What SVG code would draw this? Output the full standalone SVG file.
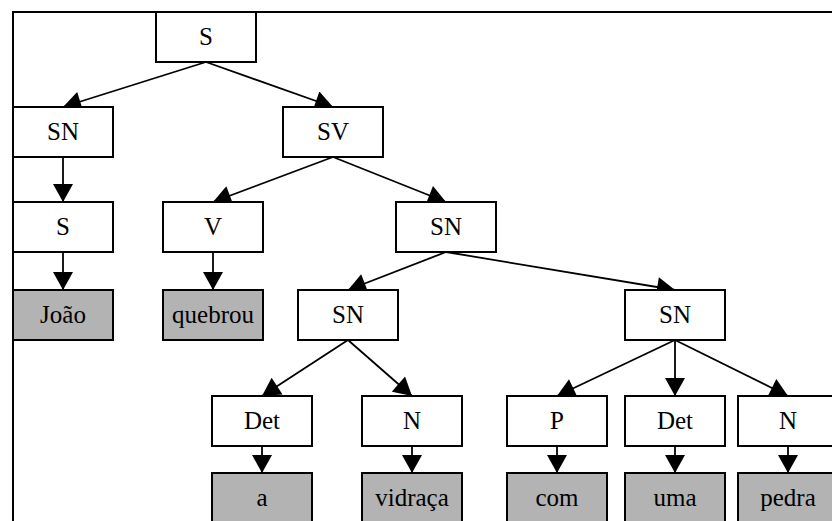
<svg xmlns="http://www.w3.org/2000/svg" width="832" height="521" viewBox="0 0 832 521">
<style>
.box{fill:#ffffff;stroke:#000;stroke-width:2}
.leaf{fill:#b3b3b3;stroke:#000;stroke-width:2}
.t{font-family:"Liberation Serif","Times New Roman",serif;font-size:25px;text-anchor:middle;fill:#000}
.c line{stroke:#000;stroke-width:1.8;marker-end:url(#ah)}
</style>
<defs>
<marker id="ah" markerUnits="userSpaceOnUse" markerWidth="20" markerHeight="20" viewBox="0 0 18 20" refX="18" refY="10" orient="auto">
<path d="M0,0 L18,10 L0,20 Z" fill="#000"/>
</marker>
</defs>
<rect x="0" y="0" width="832" height="521" fill="#fff"/>
<rect x="13" y="12" width="900" height="600" fill="none" stroke="#000" stroke-width="2"/>
<g class="c" id="connectors">
<line x1="206" y1="62" x2="63" y2="107"/>
<line x1="206" y1="62" x2="333" y2="107"/>
<line x1="63" y1="157" x2="63" y2="202"/>
<line x1="333" y1="157" x2="213" y2="202"/>
<line x1="333" y1="157" x2="446" y2="202"/>
<line x1="63" y1="252" x2="63" y2="290"/>
<line x1="213" y1="252" x2="213" y2="290"/>
<line x1="446" y1="252" x2="348" y2="290"/>
<line x1="446" y1="252" x2="675" y2="290"/>
<line x1="348" y1="340" x2="262" y2="396"/>
<line x1="348" y1="340" x2="412" y2="396"/>
<line x1="675" y1="340" x2="557" y2="396"/>
<line x1="675" y1="340" x2="675" y2="396"/>
<line x1="675" y1="340" x2="788" y2="396"/>
<line x1="262" y1="446" x2="262" y2="473"/>
<line x1="412" y1="446" x2="412" y2="473"/>
<line x1="557" y1="446" x2="557" y2="473"/>
<line x1="675" y1="446" x2="675" y2="473"/>
<line x1="788" y1="446" x2="788" y2="473"/>
</g>
<g id="n_S"><rect class="box" x="156" y="12" width="100" height="50"/><text class="t" x="206" y="45">S</text></g>
<g id="n_SN1"><rect class="box" x="13" y="107" width="100" height="50"/><text class="t" x="63" y="140">SN</text></g>
<g id="n_SV"><rect class="box" x="283" y="107" width="100" height="50"/><text class="t" x="333" y="140">SV</text></g>
<g id="n_S2"><rect class="box" x="13" y="202" width="100" height="50"/><text class="t" x="63" y="235">S</text></g>
<g id="n_V"><rect class="box" x="163" y="202" width="100" height="50"/><text class="t" x="213" y="235">V</text></g>
<g id="n_SN2"><rect class="box" x="396" y="202" width="100" height="50"/><text class="t" x="446" y="235">SN</text></g>
<g id="n_Joao"><rect class="leaf" x="13" y="290" width="100" height="50"/><text class="t" x="63" y="323">João</text></g>
<g id="n_quebrou"><rect class="leaf" x="163" y="290" width="100" height="50"/><text class="t" x="213" y="323">quebrou</text></g>
<g id="n_SN3"><rect class="box" x="298" y="290" width="100" height="50"/><text class="t" x="348" y="323">SN</text></g>
<g id="n_SN4"><rect class="box" x="625" y="290" width="100" height="50"/><text class="t" x="675" y="323">SN</text></g>
<g id="n_Det1"><rect class="box" x="212" y="396" width="100" height="50"/><text class="t" x="262" y="429">Det</text></g>
<g id="n_N1"><rect class="box" x="362" y="396" width="100" height="50"/><text class="t" x="412" y="429">N</text></g>
<g id="n_P"><rect class="box" x="507" y="396" width="100" height="50"/><text class="t" x="557" y="429">P</text></g>
<g id="n_Det2"><rect class="box" x="625" y="396" width="100" height="50"/><text class="t" x="675" y="429">Det</text></g>
<g id="n_N2"><rect class="box" x="738" y="396" width="100" height="50"/><text class="t" x="788" y="429">N</text></g>
<g id="n_a"><rect class="leaf" x="212" y="473" width="100" height="50"/><text class="t" x="262" y="506">a</text></g>
<g id="n_vidraca"><rect class="leaf" x="362" y="473" width="100" height="50"/><text class="t" x="412" y="506">vidraça</text></g>
<g id="n_com"><rect class="leaf" x="507" y="473" width="100" height="50"/><text class="t" x="557" y="506">com</text></g>
<g id="n_uma"><rect class="leaf" x="625" y="473" width="100" height="50"/><text class="t" x="675" y="506">uma</text></g>
<g id="n_pedra"><rect class="leaf" x="738" y="473" width="100" height="50"/><text class="t" x="788" y="506">pedra</text></g>
</svg>
